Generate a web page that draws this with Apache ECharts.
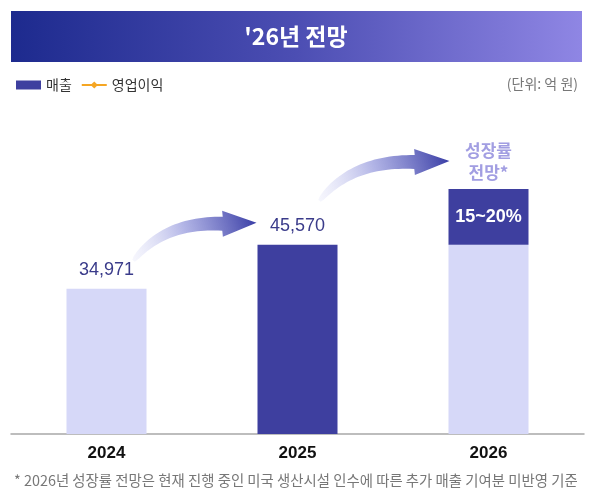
<!DOCTYPE html>
<html><head><meta charset="utf-8">
<script src="https://cdn.jsdelivr.net/npm/echarts@6/dist/echarts.min.js"></script>
<style>html,body{margin:0;padding:0;background:#fff}#c{width:592px;height:494px}</style>
</head><body><div id="c"></div>
<script>
const categories = ['2024', '2025', '2026'];
const salesValues = [34971, 45570, 45570];
const growthValues = ['-', '-', 13400];
const salesLabels = ['34,971', '45,570', ''];
const growthLabel = '15~20%';
const growthNote = '성장률\n전망*';
const opProfit = [];

const DARK = '#3e3f9f';
const LIGHT = '#d6d8f8';
const FONT = '"Noto Sans CJK KR", "Noto Sans", sans-serif';
const ARIAL = 'Arial, "Liberation Sans", sans-serif';

const chart = echarts.init(document.getElementById('c'));
const barColors = [LIGHT, DARK, LIGHT];

const option = {
  animation: false,
  textStyle: { fontFamily: FONT },
  title: {
    text: "'26년 전망",
    left: 'center', top: 20,
    textStyle: { color: '#fff', fontSize: 23, fontWeight: 'bold', fontFamily: FONT },
    z: 10
  },
  legend: {
    left: 11, top: 73, itemGap: 9,
    textStyle: { color: '#333', fontSize: 14, fontFamily: FONT },
    data: [
      { name: '매출', icon: 'rect', itemStyle: { color: DARK } },
      { name: '영업이익' }
    ],
    itemWidth: 25, itemHeight: 9
  },
  grid: { left: 11, right: 8, top: 110, bottom: 60 },
  xAxis: {
    type: 'category', data: categories,
    axisTick: { show: false },
    axisLine: { lineStyle: { color: '#a8a8a8', width: 1.5 } },
    axisLabel: { color: '#111', fontSize: 17, fontWeight: 'bold', margin: 11, fontFamily: ARIAL }
  },
  yAxis: { type: 'value', min: 0, max: 78000, show: false, splitLine: { show: false } },
  series: [
    {
      name: '매출', type: 'bar', stack: 's', barWidth: 80,
      data: salesValues.map((v, i) => ({
        value: v,
        itemStyle: { color: barColors[i] },
        label: {
          show: salesLabels[i] !== '', position: 'top', distance: 10,
          formatter: salesLabels[i], color: '#3a3b8a', fontSize: 18,
          fontFamily: ARIAL
        }
      }))
    },
    {
      name: '성장', type: 'bar', stack: 's', barWidth: 80,
      itemStyle: { color: DARK },
      label: {
        show: true, position: 'inside', formatter: growthLabel,
        color: '#fff', fontSize: 18, fontWeight: 'bold',
        fontFamily: ARIAL
      },
      data: growthValues
    },
    {
      name: '성장', type: 'bar', stack: 'n', barWidth: 80, barGap: '-100%',
      itemStyle: { color: 'transparent' },
      silent: true,
      label: {
        show: true, position: 'top', distance: 6, formatter: growthNote,
        color: '#a29ee2', fontSize: 17, fontWeight: 'bold', lineHeight: 22
      },
      data: growthValues.map((v, i) => v === '-' ? '-' : salesValues[i] + v)
    },
    {
      name: '영업이익', type: 'line', data: opProfit,
      color: '#f5a623', symbol: 'diamond', symbolSize: 9,
      lineStyle: { color: '#f5a623', width: 2 }
    }
  ],
  graphic: []
};
chart.setOption(option);

function arrowPath(tail, ctrl, base, tip, headHalf) {
  const pts1 = [], pts2 = [];
  const N = 30;
  for (let k = 0; k <= N; k++) {
    const t = k / N;
    const x = (1 - t) * (1 - t) * tail[0] + 2 * (1 - t) * t * ctrl[0] + t * t * base[0];
    const y = (1 - t) * (1 - t) * tail[1] + 2 * (1 - t) * t * ctrl[1] + t * t * base[1];
    const dx = 2 * (1 - t) * (ctrl[0] - tail[0]) + 2 * t * (base[0] - ctrl[0]);
    const dy = 2 * (1 - t) * (ctrl[1] - tail[1]) + 2 * t * (base[1] - ctrl[1]);
    const L = Math.hypot(dx, dy) || 1;
    const nx = -dy / L, ny = dx / L;
    const w = 1.5 + 5.5 * Math.sqrt(t);
    pts1.push([x + nx * w, y + ny * w]);
    pts2.push([x - nx * w, y - ny * w]);
  }
  const dx = tip[0] - base[0], dy = tip[1] - base[1];
  const L = Math.hypot(dx, dy);
  const nx = -dy / L, ny = dx / L;
  return pts1.concat([
    [base[0] + nx * headHalf, base[1] + ny * headHalf],
    tip,
    [base[0] - nx * headHalf, base[1] - ny * headHalf]
  ]).concat(pts2.reverse());
}

function makeArrow(tail, ctrl, base, tip) {
  return {
    type: 'polygon', z: 5,
    shape: { points: arrowPath(tail, ctrl, base, tip, 13) },
    style: {
      fill: new echarts.graphic.LinearGradient(tail[0], tail[1], tip[0], tip[1], [
        { offset: 0, color: 'rgba(225,226,248,0.3)' },
        { offset: 0.45, color: 'rgba(165,168,226,0.85)' },
        { offset: 1, color: '#3a3ea6' }
      ], true)
    }
  };
}

const p0 = chart.convertToPixel({ seriesIndex: 0 }, [0, salesValues[0]]);
const p1 = chart.convertToPixel({ seriesIndex: 0 }, [1, salesValues[1]]);
const p2 = chart.convertToPixel({ seriesIndex: 1 }, [2, salesValues[2] + growthValues[2]]);

const a1tail = [p0[0] + 27, p0[1] - 28];
const a1tip = [p1[0] - 41, p1[1] - 22];
const a1base = [a1tip[0] - 34, a1tip[1] + 1];
const a1ctrl = [a1tail[0] + 30, a1base[1] - 2];

const a2tail = [p1[0] + 22, p1[1] - 44];
const a2tip = [p2[0] - 39, p2[1] - 28];
const a2base = [a2tip[0] - 35, a2tip[1] + 1];
const a2ctrl = [a2tail[0] + 32, a2base[1] - 2];

chart.setOption({
  graphic: [
    {
      type: 'rect', z: 1,
      shape: { x: 11, y: 11, width: 571, height: 51 },
      style: {
        fill: new echarts.graphic.LinearGradient(0, 0, 1, 0, [
          { offset: 0, color: '#1d2a8e' },
          { offset: 0.5, color: '#4c4eb3' },
          { offset: 1, color: '#8f86e4' }
        ])
      }
    },
    {
      type: 'text', right: 14, top: 77, z: 5,
      style: { text: '(단위: 억 원)', fill: '#777', fontSize: 14, fontFamily: FONT }
    },
    {
      type: 'text', left: 14, top: 473, z: 5,
      style: {
        text: '* 2026년 성장률 전망은 현재 진행 중인 미국 생산시설 인수에 따른 추가 매출 기여분 미반영 기준',
        fill: '#777', fontSize: 14.4, fontFamily: FONT
      }
    },
    makeArrow(a1tail, a1ctrl, a1base, a1tip),
    makeArrow(a2tail, a2ctrl, a2base, a2tip)
  ]
});
</script>
</body></html>
